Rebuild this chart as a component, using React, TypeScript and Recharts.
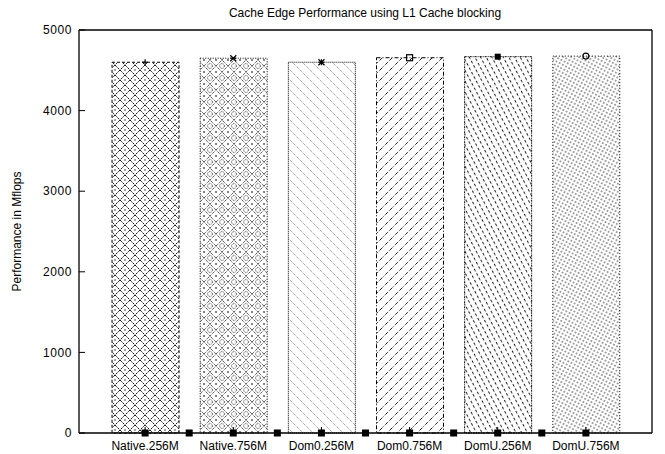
import React from 'react';
import {
  ComposedChart,
  Bar,
  Cell,
  Scatter,
  XAxis,
  YAxis,
  Label,
} from 'recharts';

// values
const categories = ['Native.256M', 'Native.756M', 'Dom0.256M', 'Dom0.756M', 'DomU.256M', 'DomU.756M'];
const positions = [0, 1, 2, 3, 4, 5];
const mflops = [4600, 4650, 4600, 4656, 4669, 4676];
const baselinePoints = [0, 0.5, 1, 1.5, 2, 2.5, 3, 3.5, 4, 4.5, 5];
const yTicks = [0, 1000, 2000, 3000, 4000, 5000];

const FONT = '"Liberation Sans", Arial, Helvetica, sans-serif';

const rows = positions.map((x, i) => ({ x, name: categories[i], value: mflops[i] }));
const baseRows = baselinePoints.map((x) => ({ x, value: 0 }));

// border dash per bar (gnuplot style line types)
const borderDash = ['3 2', '1 1.5', '1 1', '4 2 1 2', '2 1 1 1', '1 2'];
const markerKinds = ['plus', 'cross', 'star', 'box', 'fbox', 'circle'];

function TopMarker(props: any) {
  const { cx, cy, payload } = props;
  if (cx == null || cy == null) return null;
  const kind = markerKinds[positions.indexOf(payload.x)] || 'plus';
  const s = 3;
  const st = { stroke: '#000', strokeWidth: 1.2, fill: 'none' };
  switch (kind) {
    case 'plus':
      return (
        <g>
          <line x1={cx - s} y1={cy} x2={cx + s} y2={cy} {...st} />
          <line x1={cx} y1={cy - s} x2={cx} y2={cy + s} {...st} />
        </g>
      );
    case 'cross':
      return (
        <g>
          <line x1={cx - s} y1={cy - s} x2={cx + s} y2={cy + s} {...st} />
          <line x1={cx - s} y1={cy + s} x2={cx + s} y2={cy - s} {...st} />
          <line x1={cx - s} y1={cy} x2={cx + s} y2={cy} {...st} />
        </g>
      );
    case 'star':
      return (
        <g>
          <line x1={cx - s} y1={cy - s} x2={cx + s} y2={cy + s} {...st} />
          <line x1={cx - s} y1={cy + s} x2={cx + s} y2={cy - s} {...st} />
          <line x1={cx - s} y1={cy} x2={cx + s} y2={cy} {...st} />
          <line x1={cx} y1={cy - s} x2={cx} y2={cy + s} {...st} />
        </g>
      );
    case 'box':
      return <rect x={cx - s} y={cy - s} width={2 * s} height={2 * s} {...st} />;
    case 'fbox':
      return <rect x={cx - s} y={cy - s} width={2 * s} height={2 * s} fill="#000" />;
    default:
      return <circle cx={cx} cy={cy} r={s} {...st} />;
  }
}

function BaseSquare(props: any) {
  const { cx, cy } = props;
  if (cx == null || cy == null) return null;
  return <rect x={cx - 3.5} y={cy - 3.5} width={7} height={7} fill="#000" />;
}

function YTitle(props: any) {
  const vb = props.viewBox || { y: 30, height: 403 };
  const cy = vb.y + vb.height / 2;
  return (
    <text
      x={21}
      y={cy}
      transform={`rotate(-90 21 ${cy})`}
      textAnchor="middle"
      style={{ fontFamily: FONT, fontSize: 12, fill: '#000' }}
    >
      Performance in Mflops
    </text>
  );
}

export default function App() {
  const tickStyle = { fontFamily: FONT, fontSize: 12, fill: '#000' };
  const line = { stroke: '#000', strokeWidth: 1.3 };
  return (
    <div style={{ position: 'absolute', left: 0, top: 0, width: 665, height: 454, background: '#fff' }}>
      <div
        style={{
          position: 'absolute',
          left: 200,
          top: 6,
          width: 330,
          textAlign: 'center',
          whiteSpace: 'nowrap',
          fontFamily: FONT,
          fontSize: 12,
          lineHeight: '14px',
          color: '#000',
        }}
      >
        Cache Edge Performance using L1 Cache blocking
      </div>
      <ComposedChart
        width={665}
        height={454}
        data={rows}
        margin={{ top: 29, right: 12, bottom: 1, left: 19 }}
      >
        <defs>
          <pattern id="pat0" width="10" height="10" patternUnits="userSpaceOnUse">
            <path d="M0,0 L10,10 M10,0 L0,10" stroke="#000" strokeWidth="0.9" strokeDasharray="2.5 1" />
            <rect x="4.4" y="-0.6" width="1.2" height="1.2" fill="#000" />
            <rect x="4.4" y="9.4" width="1.2" height="1.2" fill="#000" />
          </pattern>
          <pattern id="pat1" width="12" height="12" patternUnits="userSpaceOnUse">
            <path d="M0,6 L6,0 L12,6 L6,12 Z" stroke="#000" strokeWidth="0.9" strokeDasharray="1 1" fill="none" />
            <circle cx="6" cy="6" r="2.4" stroke="#000" strokeWidth="0.7" strokeDasharray="1 0.8" fill="none" />
            <rect x="-0.7" y="-0.7" width="1.4" height="1.4" fill="#000" />
            <rect x="11.3" y="11.3" width="1.4" height="1.4" fill="#000" />
            <rect x="11.3" y="-0.7" width="1.4" height="1.4" fill="#000" />
            <rect x="-0.7" y="11.3" width="1.4" height="1.4" fill="#000" />
          </pattern>
          <pattern id="pat2" width="10" height="10" patternUnits="userSpaceOnUse">
            <path d="M0,0 L10,10 M-3,7 L3,13 M7,-3 L13,3" stroke="#666" strokeWidth="0.8" strokeDasharray="1 1" />
          </pattern>
          <pattern id="pat3" width="10" height="10" patternUnits="userSpaceOnUse">
            <path d="M0,10 L10,0 M-3,3 L3,-3 M7,13 L13,7" stroke="#000" strokeWidth="0.9" strokeDasharray="3.5 1.5 1 1.5" />
          </pattern>
          <pattern id="pat4" width="5" height="5" patternUnits="userSpaceOnUse" patternTransform="rotate(-28)">
            <line x1="2.5" y1="0" x2="2.5" y2="5" stroke="#000" strokeWidth="0.9" strokeDasharray="2.2 0.3 0.6 1.9" />
          </pattern>
          <pattern id="pat5" width="3.6" height="3.6" patternUnits="userSpaceOnUse" patternTransform="rotate(28)">
            <rect x="1.2" y="1.2" width="1.2" height="1.2" fill="#222" />
          </pattern>
        </defs>
        <XAxis
          xAxisId={0}
          dataKey="x"
          type="number"
          domain={[-0.75, 5.75]}
          ticks={positions}
          allowDataOverflow
          interval={0}
          height={20}
          tickSize={-6}
          tickMargin={14}
          axisLine={line}
          tickLine={{ stroke: '#000' }}
          tick={tickStyle}
          tickFormatter={(v: number) => categories[positions.indexOf(v)] ?? ''}
        />
        <XAxis
          xAxisId="top"
          orientation="top"
          dataKey="x"
          type="number"
          domain={[-0.75, 5.75]}
          ticks={positions}
          allowDataOverflow
          height={1}
          tickSize={-6}
          tick={false}
          axisLine={line}
          tickLine={{ stroke: '#000' }}
        />
        <XAxis
          xAxisId="base"
          dataKey="x"
          type="number"
          domain={[-0.75, 5.75]}
          allowDataOverflow
          hide
        />
        <YAxis
          yAxisId={0}
          type="number"
          domain={[0, 5000]}
          ticks={yTicks}
          interval={0}
          width={60}
          tickSize={-6}
          tickMargin={13}
          axisLine={line}
          tickLine={{ stroke: '#000' }}
          tick={{ ...tickStyle, letterSpacing: 0.6 }}
        >
          <Label content={YTitle} />
        </YAxis>
        <YAxis
          yAxisId="right"
          orientation="right"
          type="number"
          domain={[0, 5000]}
          ticks={yTicks}
          width={1}
          tickSize={-6}
          tick={false}
          axisLine={line}
          tickLine={{ stroke: '#000' }}
        />
        <Bar dataKey="value" barSize={67} isAnimationActive={false}>
          {rows.map((r, i) => (
            <Cell
              key={r.name}
              fill={`url(#pat${i})`}
              stroke="#000"
              strokeWidth={1}
              strokeDasharray={borderDash[i]}
            />
          ))}
        </Bar>
        <Scatter data={rows} dataKey="value" shape={TopMarker} isAnimationActive={false} />
        <Scatter
          data={baseRows}
          xAxisId="base"
          dataKey="value"
          shape={BaseSquare}
          isAnimationActive={false}
        />
      </ComposedChart>
    </div>
  );
}
